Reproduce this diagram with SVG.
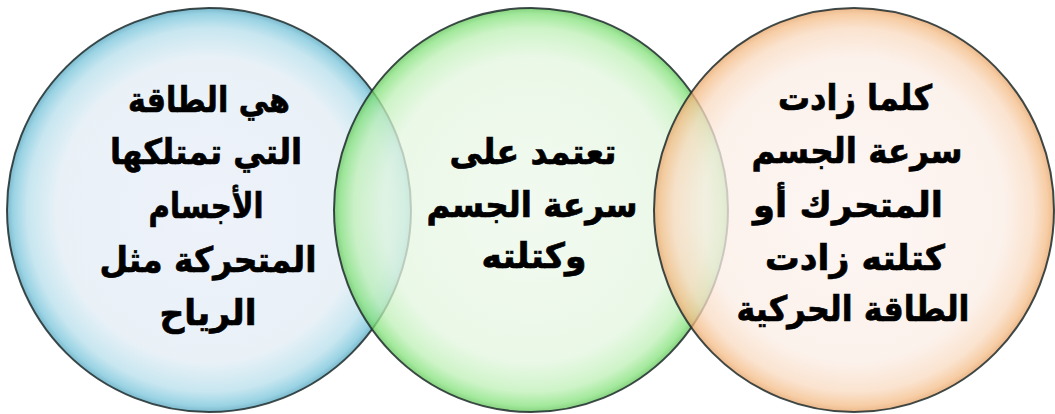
<svg xmlns="http://www.w3.org/2000/svg" width="1055" height="414" viewBox="0 0 1055 414">
<style>
.bub{stroke:#1f2b2b;stroke-width:2;stroke-opacity:0.85}
.lbl{font-family:"DejaVu Sans",sans-serif;font-weight:bold;font-size:35px;fill:#000;stroke:#000;stroke-width:0.7;text-anchor:middle}
</style>
<defs>
<radialGradient id="gBlue" cx="0.5" cy="0.5" r="0.5">
<stop offset="0" stop-color="#ecf0f9"/>
<stop offset="0.75" stop-color="#e6eff6"/>
<stop offset="0.9" stop-color="#c0e3ee"/>
<stop offset="0.97" stop-color="#8ccde0"/>
<stop offset="1" stop-color="#6ab0c6"/>
</radialGradient>
<radialGradient id="gGreen" cx="0.5" cy="0.5" r="0.5">
<stop offset="0" stop-color="#eef8ec"/>
<stop offset="0.75" stop-color="#e4f6e0"/>
<stop offset="0.9" stop-color="#bff0b7"/>
<stop offset="0.97" stop-color="#86e27d"/>
<stop offset="1" stop-color="#62c55a"/>
</radialGradient>
<radialGradient id="gOrange" cx="0.5" cy="0.5" r="0.5">
<stop offset="0" stop-color="#fcf3f0"/>
<stop offset="0.75" stop-color="#fbeee6"/>
<stop offset="0.9" stop-color="#f9dac0"/>
<stop offset="0.97" stop-color="#f4bd88"/>
<stop offset="1" stop-color="#e6a268"/>
</radialGradient>
</defs>
<g id="node-blue">
<ellipse class="bub" cx="209" cy="210" rx="202" ry="202" fill="url(#gBlue)" fill-opacity="0.88"/>
</g>
<g id="node-green">
<ellipse class="bub" cx="531" cy="210" rx="197" ry="202" fill="url(#gGreen)" fill-opacity="0.76"/>
</g>
<g id="node-orange">
<ellipse class="bub" cx="854" cy="210" rx="200" ry="202" fill="url(#gOrange)" fill-opacity="0.76"/>
</g>
<g id="connectors"></g>
<g id="labels">
<text class="lbl" direction="rtl" x="209" y="112" textLength="162" lengthAdjust="spacingAndGlyphs">هي الطاقة</text>
<text class="lbl" direction="rtl" x="206" y="164" textLength="192" lengthAdjust="spacingAndGlyphs">التي تمتلكها</text>
<text class="lbl" direction="rtl" x="206" y="218" textLength="115" lengthAdjust="spacingAndGlyphs">الأجسام</text>
<text class="lbl" direction="rtl" x="208" y="272" textLength="217" lengthAdjust="spacingAndGlyphs">المتحركة مثل</text>
<text class="lbl" direction="rtl" x="208" y="325" textLength="97" lengthAdjust="spacingAndGlyphs">الرياح</text>
<text class="lbl" direction="rtl" x="533" y="164" textLength="167" lengthAdjust="spacingAndGlyphs">تعتمد على</text>
<text class="lbl" direction="rtl" x="532" y="217" textLength="211" lengthAdjust="spacingAndGlyphs">سرعة الجسم</text>
<text class="lbl" direction="rtl" x="534" y="268" textLength="105" lengthAdjust="spacingAndGlyphs">وكتلته</text>
<text class="lbl" direction="rtl" x="855" y="110" textLength="154" lengthAdjust="spacingAndGlyphs">كلما زادت</text>
<text class="lbl" direction="rtl" x="857" y="163" textLength="211" lengthAdjust="spacingAndGlyphs">سرعة الجسم</text>
<text class="lbl" direction="rtl" x="848" y="217" textLength="190" lengthAdjust="spacingAndGlyphs">المتحرك أو</text>
<text class="lbl" direction="rtl" x="855" y="270" textLength="180" lengthAdjust="spacingAndGlyphs">كتلته زادت</text>
<text class="lbl" direction="rtl" x="853" y="321" textLength="233" lengthAdjust="spacingAndGlyphs">الطاقة الحركية</text>
</g>
</svg>
